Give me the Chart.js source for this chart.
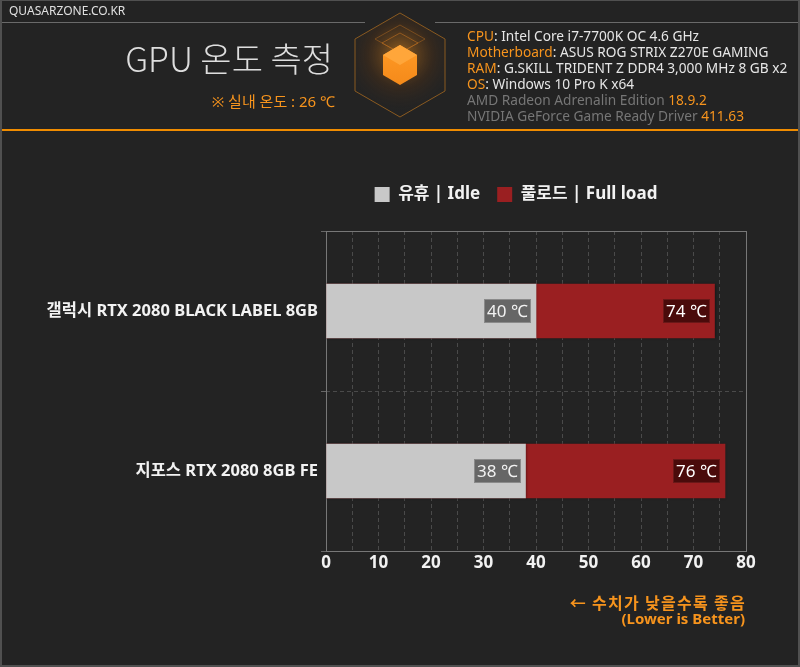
<!DOCTYPE html>
<html><head><meta charset="utf-8">
<script src="https://cdn.jsdelivr.net/npm/chart.js@4.4.0/dist/chart.umd.min.js"></script>
<style>
html,body{margin:0;padding:0;background:#232323;}
#wrap{position:relative;width:800px;height:667px;overflow:hidden;background:#232323;}
#frame{position:absolute;left:0;top:0;width:800px;height:667px;box-sizing:border-box;border:2px solid #505050;border-top:1px solid #505050;pointer-events:none;z-index:5}
canvas{position:absolute;left:0;top:0;}
.t{position:absolute;white-space:nowrap;font-family:"Noto Sans","Noto Sans CJK KR",sans-serif;line-height:1;z-index:3}
.o{color:#f7941d}
.g{color:#767676}
.hl{position:absolute;height:1px;background:#6a6a6a;top:22px;z-index:3}
</style></head>
<body>
<div id="wrap">
  <canvas id="c" width="800" height="667"></canvas>
  <div class="t" style="left:9px;top:5px;font-size:12px;color:#e0e0e0;">QUASARZONE.CO.KR</div>
  <div class="hl" style="left:0;width:365px;"></div>
  <div class="hl" style="left:435px;width:365px;"></div>
  <div class="t" style="right:467px;top:41px;font-size:34px;font-weight:300;color:#dedede;font-family:'Noto Sans CJK KR',sans-serif;">GPU 온도 측정</div>
  <div class="t o" style="right:465px;top:94px;font-size:15px;">※ 실내 온도 : 26 ℃</div>
  <svg style="position:absolute;left:340px;top:5px;z-index:2" width="120" height="125" viewBox="340 5 120 125">
    <defs>
      <radialGradient id="glow" cx="400" cy="55" r="55" gradientUnits="userSpaceOnUse">
        <stop offset="0" stop-color="#ff9a1e" stop-opacity="0.55"/>
        <stop offset="0.6" stop-color="#6a3a10" stop-opacity="0.25"/>
        <stop offset="1" stop-color="#2a2a2a" stop-opacity="0.1"/>
      </radialGradient>
      <linearGradient id="cube" x1="0" y1="0" x2="0" y2="1">
        <stop offset="0" stop-color="#ff9a25"/>
        <stop offset="1" stop-color="#f58a1a"/>
      </linearGradient>
    </defs>
    <polygon points="400,13 445,39 445,91 400,117 355,91 355,39" fill="url(#glow)" stroke="#8a5a20" stroke-width="1"/>
    <polygon points="400,25 425,39 400,53 375,39" fill="none" stroke="#b06a20" stroke-opacity="0.5"/>
    <polygon points="400,33 418,43 400,53 382,43" fill="none" stroke="#c07020" stroke-opacity="0.6"/>
    <polygon points="400,45 417,55 417,75 400,85 383,75 383,55" fill="url(#cube)"/>
    <polygon points="400,45 417,55 400,65 383,55" fill="#ffa63a"/>
  </svg>
  <div class="t" style="left:467px;top:28px;font-size:13.7px;color:#e6e6e6;line-height:16px;">
    <span class="o">CPU</span>: Intel Core i7-7700K OC 4.6 GHz<br>
    <span class="o">Motherboard</span>: ASUS ROG STRIX Z270E GAMING<br>
    <span class="o">RAM</span>: G.SKILL TRIDENT Z DDR4 3,000 MHz 8 GB x2<br>
    <span class="o">OS</span>: Windows 10 Pro K x64<br>
    <span class="g">AMD Radeon Adrenalin Edition </span><span class="o">18.9.2</span><br>
    <span class="g">NVIDIA GeForce Game Ready Driver </span><span class="o">411.63</span>
  </div>
  <div style="position:absolute;left:0;top:129px;width:800px;height:2px;background:#f08c00;z-index:3"></div>
  <div class="t o" style="right:54px;top:594px;font-size:16px;font-weight:bold;letter-spacing:1.3px;font-family:'Noto Sans CJK KR',sans-serif;">← 수치가 낮을수록 좋음</div>
  <div class="t o" style="right:55px;top:611px;font-size:15px;font-weight:bold;">(Lower is Better)</div>
  <div id="frame"></div>
</div>
<script>
const categories = ['갤럭시 RTX 2080 BLACK LABEL 8GB', '지포스 RTX 2080 8GB FE'];
const seriesNames = ['유휴 | Idle', '풀로드 | Full load'];
const idleTemps = [40, 38];
const loadTemps = [74, 76];
const xTickLabels = [0, 10, 20, 30, 40, 50, 60, 70, 80];
const unit = '℃';

const FONT = '"Noto Sans", "Noto Sans CJK KR", sans-serif';
const labelStyles = [
  {bg: '#666666', border: '#8a8a8a', color: '#f2f2f2'},
  {bg: '#4a0b0b', border: '#6a1818', color: '#ffffff'}
];

const framePlugin = {
  id: 'frame',
  beforeDatasetsDraw(chart) {
    const {ctx, chartArea: a} = chart;
    ctx.save();
    ctx.strokeStyle = '#777777';
    ctx.lineWidth = 1;
    ctx.strokeRect(Math.round(a.left) + 0.5, Math.round(a.top) + 0.5, Math.round(a.right - a.left), Math.round(a.bottom - a.top));
    ctx.restore();
    ctx.save();
    ctx.shadowColor = 'rgba(0,0,0,0.6)';
    ctx.shadowBlur = 3;
  },
  afterDatasetsDraw(chart) {
    const ctx = chart.ctx;
    ctx.restore();
    ctx.save();
    ctx.font = '17px ' + FONT;
    ctx.textBaseline = 'middle';
    ctx.textAlign = 'center';
    chart.data.datasets.forEach((ds, di) => {
      const meta = chart.getDatasetMeta(di);
      const st = labelStyles[di];
      meta.data.forEach((el, i) => {
        const txt = ds.data[i] + ' ' + unit;
        const w = Math.round(ctx.measureText(txt).width + 6);
        const h = 24;
        const x1 = Math.round(el.x - 5 - w);
        const y1 = Math.round(el.y - h / 2);
        ctx.fillStyle = st.bg;
        ctx.fillRect(x1, y1, w, h);
        ctx.strokeStyle = st.border;
        ctx.lineWidth = 1;
        ctx.strokeRect(x1 + 0.5, y1 + 0.5, w - 1, h - 1);
        ctx.fillStyle = st.color;
        ctx.fillText(txt, x1 + w / 2, y1 + h / 2 + 1);
      });
    });
    ctx.restore();
  }
};

new Chart(document.getElementById('c'), {
  type: 'bar',
  data: {
    labels: categories,
    datasets: [
      {label: seriesNames[0], data: idleTemps, backgroundColor: '#c8c8c8', borderWidth: 0, xAxisID: 'x', yAxisID: 'y'},
      {label: seriesNames[1], data: loadTemps, backgroundColor: '#9a1f21', borderWidth: 0, xAxisID: 'x', yAxisID: 'y'}
    ]
  },
  options: {
    indexAxis: 'y',
    responsive: false,
    animation: false,
    layout: {padding: {top: 169, left: 286, right: 54, bottom: 86}},
    datasets: {bar: {grouped: false, barThickness: 54}},
    plugins: {
      legend: {
        position: 'top',
        labels: {
          color: '#f2f2f2',
          font: {family: FONT, size: 17, weight: 'bold'},
          boxWidth: 15, boxHeight: 15, padding: 17
        }
      },
      tooltip: {enabled: false}
    },
    scales: {
      x: {
        type: 'linear', position: 'bottom', min: 0, max: 80,
        ticks: {
          stepSize: 5, autoSkip: false, color: '#f2f2f2', padding: 2,
          font: {family: FONT, size: 17, weight: 'bold'},
          callback: v => xTickLabels.includes(v) ? String(v) : ''
        },
        grid: {color: '#4a4a4a', drawTicks: false},
        border: {display: false, dash: [4, 3]},
        afterFit(s) { s.height = 30; }
      },
      y: {
        ticks: {color: '#f2f2f2', padding: 3, font: {family: FONT, size: 16.5, weight: 'bold'}},
        grid: {color: '#4a4a4a', offset: true, tickLength: 5, tickColor: '#666'},
        border: {display: false, dash: [4, 3]},
        afterFit(s) {
          s.width = 40;
          // let the long category labels extend left of the narrow scale box
          s._computeLabelArea = () => undefined;
        }
      },
      spacer: {
        type: 'linear', position: 'top', display: true,
        ticks: {display: false}, grid: {display: false}, border: {display: false},
        afterFit(s) { s.height = 18; }
      }
    }
  },
  plugins: [framePlugin]
});
</script>
</body></html>
